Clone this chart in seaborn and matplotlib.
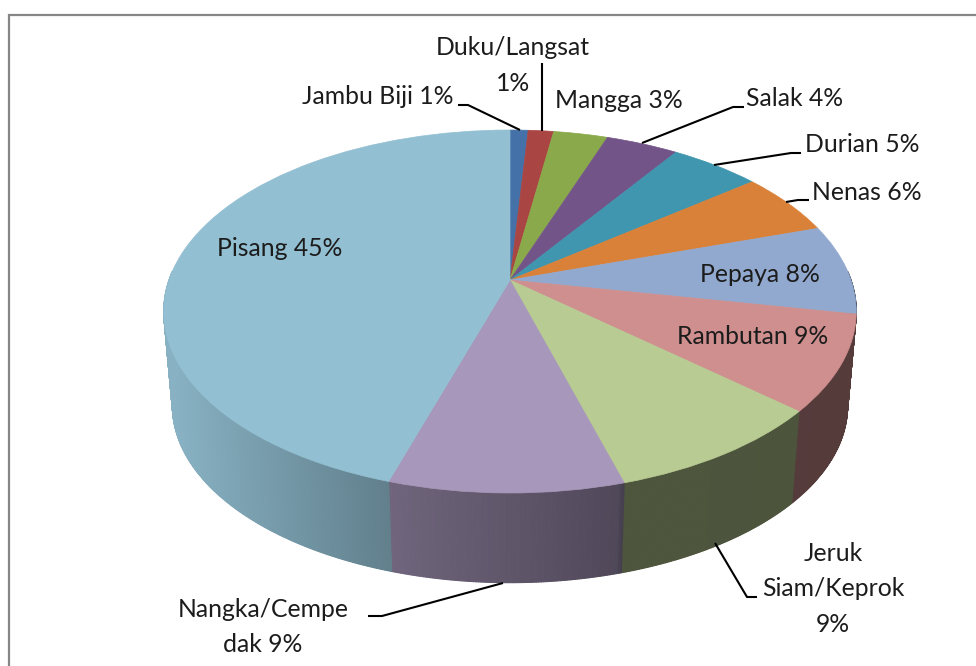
import numpy as np
import matplotlib
matplotlib.use("Agg")
import matplotlib.pyplot as plt
from matplotlib.collections import PolyCollection
from matplotlib.transforms import Transform
from matplotlib.colors import to_rgb
import seaborn as sns

categories = ["Jambu Biji", "Duku/Langsat", "Mangga", "Salak", "Durian", "Nenas",
              "Pepaya", "Rambutan", "Jeruk Siam/Keprok", "Nangka/Cempedak", "Pisang"]
values = [1.0, 1.4, 3.0, 4.0, 5.0, 5.6, 8.0, 8.5, 9.0, 9.3, 45.2]
colors = ["#4472A8", "#A94542", "#8AA94B", "#735489", "#3F96AE", "#D98139",
          "#92A9CF", "#CE8F8E", "#B8CB92", "#A797BA", "#92BFD2"]
label_texts = ["Jambu Biji 1%", "Duku/Langsat\n1%", "Mangga 3%", "Salak 4%", "Durian 5%",
               "Nenas 6%", "Pepaya 8%", "Rambutan 9%", "Jeruk\nSiam/Keprok\n9%",
               "Nangka/Cempe\ndak 9%", "Pisang 45%"]
label_xy = [(378, 96), (513, 65.5), (619, 101), (795, 99), (862, 144), (867, 193),
            (760, 275), (753, 336), (833, 589), (263, 627), (280, 248)]
leaders = [[(458, 105), (468, 105), (520, 130)],
           [(542, 63), (542, 131)],
           [(642, 143), (733, 107), (744, 107)],
           [(714, 165), (791, 153), (801, 153)],
           [(786, 202), (798, 200), (809, 200)],
           [(715, 543), (747, 597), (757, 597)],
           [(503, 583), (382, 616), (368, 616)]]

sns.set_theme(style="white")
plt.rcParams["font.family"] = ["Lato", "DejaVu Sans"]
palette = sns.color_palette(colors)

CX, CY, RX, RY, K = 510.0, 280.0, 341.0, 176.0, 0.1736
DEPTH, SHRINK = 95.0, 0.975


class Perspective(Transform):
    input_dims = output_dims = 2

    def transform_non_affine(self, pts):
        pts = np.asarray(pts)
        w = 1 + K * pts[:, 1]
        return np.column_stack([CX + RX * pts[:, 0] / w, CY - RY * pts[:, 1] / w])


def rim(theta, depth=0.0, scale=1.0):
    x, y = np.sin(theta), np.cos(theta)
    w = 1 + K * y
    return CX + scale * RX * x / w, CY + depth - scale * RY * y / w


fig = plt.figure(figsize=(9.76, 6.66), dpi=100, facecolor="white")
ax = fig.add_axes([0, 0, 1, 1])

wedges, _ = ax.pie(values, colors=palette, startangle=90, counterclock=False,
                   wedgeprops={"linewidth": 0})
ax.set_aspect("auto")
ax.set_xlim(0, 976)
ax.set_ylim(666, 0)
ax.axis("off")

# side wall: thin shaded strips following each slice's share of the rim
shade_x = [170, 386, 618, 622, 860]
shade_f = [0.93, 0.67, 0.48, 0.42, 0.41]
edges = np.concatenate([[0], np.cumsum(values)]) / np.sum(values) * 2 * np.pi
polys, facecols = [], []
for i, col in enumerate(palette):
    n = max(2, int((edges[i + 1] - edges[i]) / 0.006))
    th = np.linspace(edges[i], edges[i + 1], n + 1)
    for a, b in zip(th[:-1], th[1:]):
        if np.cos((a + b) / 2) > 0.05:  # back of the rim is hidden by the top face
            continue
        xa, ya = rim(a)
        xb, yb = rim(b)
        xc, yc = rim(b, DEPTH, SHRINK)
        xd, yd = rim(a, DEPTH, SHRINK)
        f = np.interp((xa + xb) / 2, shade_x, shade_f)
        polys.append([(xa, ya), (xb, yb), (xc, yc), (xd, yd)])
        facecols.append(tuple(np.array(to_rgb(col)) * f))
side = PolyCollection(polys, facecolors=facecols, edgecolors=facecols, linewidths=0.8, zorder=1)
ax.add_collection(side)

persp = Perspective()
for w, col in zip(wedges, palette):
    w.set_transform(persp + ax.transData)
    w.set_clip_on(False)
    w.set_zorder(2)
    w.set_edgecolor(col)
    w.set_linewidth(0.5)

for pts in leaders:
    xs, ys = zip(*pts)
    ax.plot(xs, ys, color="black", lw=1.5, solid_capstyle="butt", solid_joinstyle="round", zorder=3)

for txt, (x, y) in zip(label_texts, label_xy):
    ax.text(x, y, txt, ha="center", va="center", fontsize=17.8, color="#1c1c1c",
            linespacing=1.65, zorder=4)

ax.plot([9, 9, 976], [666, 14.5, 14.5], color="#868686", lw=1.6,
        solid_joinstyle="miter", zorder=5, clip_on=False)

fig.savefig("out.png", dpi=100, facecolor="white")
